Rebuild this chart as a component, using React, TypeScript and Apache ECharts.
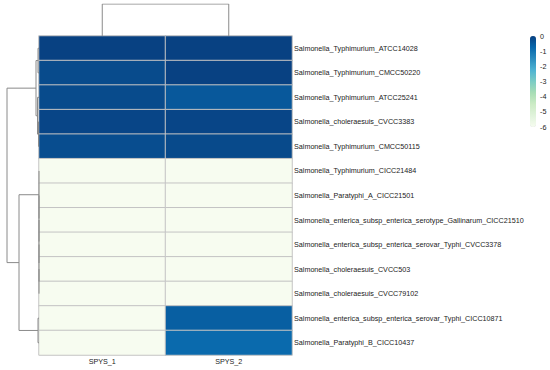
import React, { useEffect, useRef } from "react";
import * as echarts from "echarts";

const columns = ["SPYS_1", "SPYS_2"];
const rows = [
  "Salmonella_Typhimurium_ATCC14028",
  "Salmonella_Typhimurium_CMCC50220",
  "Salmonella_Typhimurium_ATCC25241",
  "Salmonella_choleraesuis_CVCC3383",
  "Salmonella_Typhimurium_CMCC50115",
  "Salmonella_Typhimurium_CICC21484",
  "Salmonella_Paratyphi_A_CICC21501",
  "Salmonella_enterica_subsp_enterica_serotype_Gallinarum_CICC21510",
  "Salmonella_enterica_subsp_enterica_serovar_Typhi_CVCC3378",
  "Salmonella_choleraesuis_CVCC503",
  "Salmonella_choleraesuis_CVCC79102",
  "Salmonella_enterica_subsp_enterica_serovar_Typhi_CICC10871",
  "Salmonella_Paratyphi_B_CICC10437",
];
const spys1 = [-0.02, -0.2, -0.2, -0.1, -0.25, -6, -6, -6, -6, -6, -6, -6, -6];
const spys2 = [-0.02, -0.02, -0.45, -0.1, -0.18, -6, -6, -6, -6, -6, -6, -0.58, -0.8];

// hclust-style merges: negative = leaf -(i+1), positive = merge number (1-based); third = height
const rowMerges: [number, number, number][] = [
  [-1, -2, 1.0],
  [-4, -5, 0.5],
  [-3, 2, 1.5],
  [1, 3, 3.0],
  [-10, -11, 0],
  [-9, 5, 0],
  [-8, 6, 0],
  [-7, 7, 0],
  [-6, 8, 0],
  [-12, -13, 1.0],
  [9, 10, 20],
  [4, 11, 32],
];
const colMerges: [number, number, number][] = [[-1, -2, 1]];

const gnbu = ["#f7fcf0", "#e0f3db", "#ccebc5", "#a8ddb5", "#7bccc4", "#4eb3d3", "#2b8cbe", "#0868ac", "#084081"];
const scaleTicks = [0, -1, -2, -3, -4, -5, -6];

function dendro(merges: [number, number, number][], horizontal: boolean) {
  const pos: number[] = [];
  const hgt: number[] = [];
  const node = (n: number): [number, number] => (n < 0 ? [-n - 1 + 0.5, 0] : [pos[n - 1], hgt[n - 1]]);
  const segs: any[] = [];
  merges.forEach(([a, b, h], k) => {
    const [pa, ha] = node(a);
    const [pb, hb] = node(b);
    pos[k] = (pa + pb) / 2;
    hgt[k] = h;
    const pts = horizontal
      ? [[ha, pa], [h, pa], [h, pb], [hb, pb]]
      : [[pa, ha], [pa, h], [pb, h], [pb, hb]];
    segs.push({ coords: pts });
  });
  return segs;
}

export default function App() {
  const ref = useRef<HTMLDivElement>(null);
  useEffect(() => {
    const chart = echarts.init(ref.current!, null, { renderer: "svg" });
    const heat: number[][] = [];
    rows.forEach((_, i) => {
      heat.push([0, i, spys1[i]]);
      heat.push([1, i, spys2[i]]);
    });
    const font = "Liberation Sans, Arial, sans-serif";
    const txt = "#222";
    const maxRowH = Math.max(...rowMerges.map((m) => m[2]));
    const maxColH = Math.max(...colMerges.map((m) => m[2]));
    chart.setOption({
      animation: false,
      backgroundColor: "#ffffff",
      grid: [
        { left: 39, top: 36, width: 253, height: 319 },
        { left: 7, top: 36, width: 32, height: 319 },
        { left: 39, top: 4, width: 253, height: 32 },
        { left: 530, top: 36, width: 6, height: 91 },
      ],
      xAxis: [
        {
          type: "category",
          gridIndex: 0,
          data: columns,
          axisLine: { show: false },
          axisTick: { show: false },
          axisLabel: { fontSize: 7.2, color: txt, margin: 3, fontFamily: font },
          splitLine: { show: false },
        },
        { type: "value", gridIndex: 1, min: 0, max: maxRowH, inverse: true, show: false },
        { type: "value", gridIndex: 2, min: 0, max: columns.length, show: false },
        { type: "value", gridIndex: 3, min: 0, max: 1, show: false },
      ],
      yAxis: [
        {
          type: "category",
          gridIndex: 0,
          data: rows,
          inverse: true,
          position: "right",
          axisLine: { show: false },
          axisTick: { show: false },
          axisLabel: { fontSize: 7.2, color: txt, margin: 2, fontFamily: font },
          splitLine: { show: false },
        },
        { type: "value", gridIndex: 1, min: 0, max: rows.length, inverse: true, show: false },
        { type: "value", gridIndex: 2, min: 0, max: maxColH, show: false },
        {
          type: "value",
          gridIndex: 3,
          min: -6,
          max: 0,
          interval: 1,
          position: "right",
          axisLine: { show: false },
          axisTick: { show: false },
          splitLine: { show: false },
          axisLabel: {
            fontSize: 7.2,
            color: txt,
            margin: 4,
            fontFamily: font,
            customValues: scaleTicks,
          },
        },
      ],
      visualMap: {
        type: "continuous",
        seriesIndex: 0,
        min: -6,
        max: 0,
        calculable: false,
        left: 530,
        top: 36,
        itemWidth: 6,
        itemHeight: 91,
        padding: 0,
        inRange: { color: gnbu },
        hoverLink: false,
      },
      series: [
        {
          type: "heatmap",
          xAxisIndex: 0,
          yAxisIndex: 0,
          data: heat,
          itemStyle: { borderColor: "#c4c4c4", borderWidth: 1 },
          emphasis: { disabled: true },
        },
        {
          type: "lines",
          coordinateSystem: "cartesian2d",
          xAxisIndex: 1,
          yAxisIndex: 1,
          polyline: true,
          data: dendro(rowMerges, true),
          lineStyle: { color: "#8a8a8a", width: 1, opacity: 1 },
          silent: true,
        },
        {
          type: "lines",
          coordinateSystem: "cartesian2d",
          xAxisIndex: 2,
          yAxisIndex: 2,
          polyline: true,
          data: dendro(colMerges, false),
          lineStyle: { color: "#8a8a8a", width: 1, opacity: 1 },
          silent: true,
        },
        { type: "scatter", xAxisIndex: 3, yAxisIndex: 3, data: [] },
      ],
    });
    return () => chart.dispose();
  }, []);
  return (
    <div
      ref={ref}
      style={{ position: "absolute", left: 0, top: 0, width: 550, height: 370 }}
    />
  );
}
